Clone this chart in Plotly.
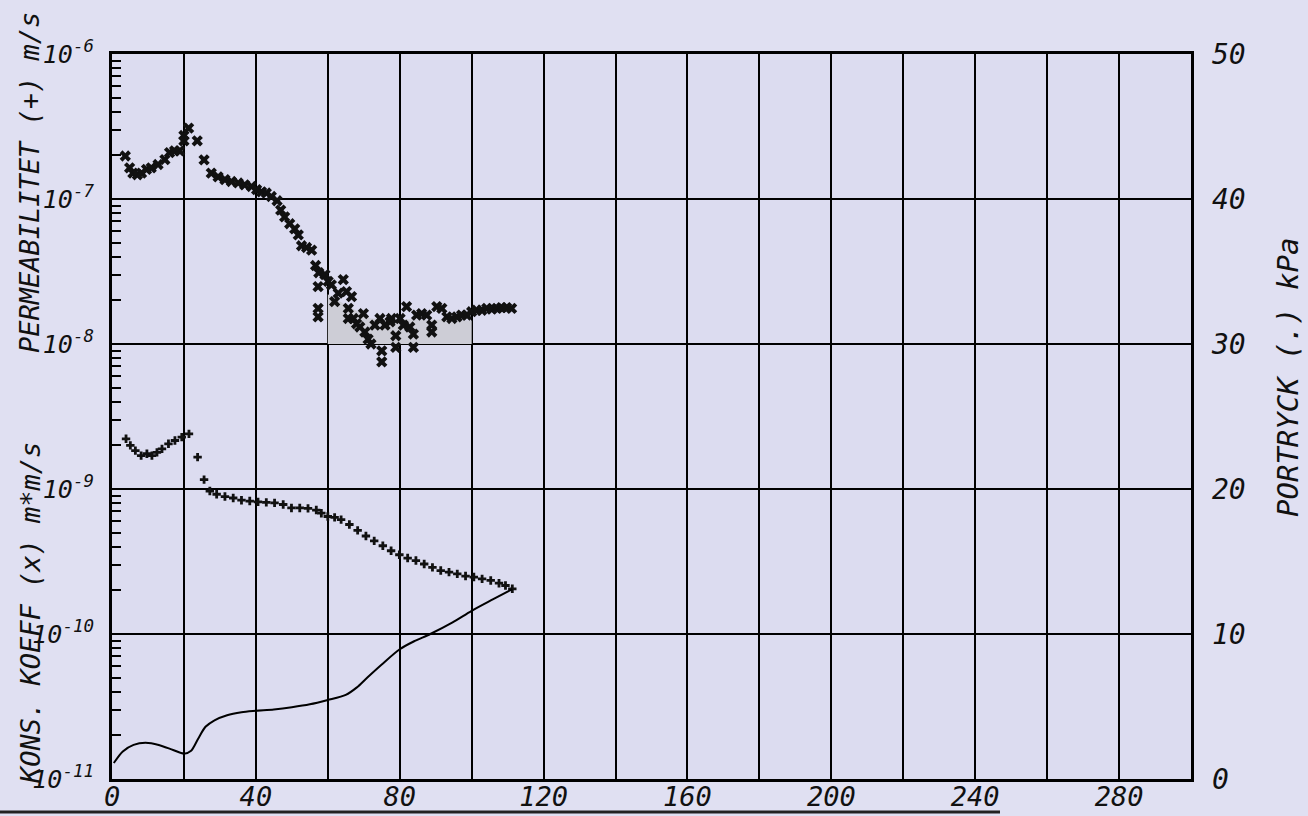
import plotly.graph_objects as go

# ---------------- data ----------------
perm_x = [3.7, 4.9, 5.8, 7.05, 8.2, 9.6, 10.9, 12.8, 14.7, 16.0, 17.4, 18.8, 20.0, 20.0, 21.3,
          23.7, 25.6, 27.6, 29.5, 31.4, 33.2, 35.1, 36.9, 38.8, 40.2, 41.6, 42.9, 44.3, 45.9,
          46.9, 48.0, 49.4, 50.8, 51.8, 52.7, 54.1, 55.5, 56.6, 57.5, 57.3, 57.3, 57.3, 59.2,
          60.1, 61.0, 61.9, 62.9, 64.3, 65.2, 66.6, 65.7, 65.7, 67.1, 68.0, 68.9, 69.9, 70.3,
          71.2, 72.0, 73.1, 74.5, 75.0, 75.0, 75.9, 77.3, 77.7, 78.9, 78.9, 80.1, 81.0, 81.9,
          82.8, 83.8, 83.8, 84.7, 86.1, 87.5, 88.9, 88.9, 90.3, 91.7, 93.1, 94.5, 95.9, 97.2,
          98.6, 100.0, 101.4, 102.8, 104.2, 105.6, 107.0, 108.3, 109.7, 111.1]
perm_v = [1.98e-7, 1.64e-7, 1.51e-7, 1.47e-7, 1.51e-7, 1.60e-7, 1.64e-7, 1.73e-7, 1.87e-7,
          2.09e-7, 2.15e-7, 2.15e-7, 2.74e-7, 2.52e-7, 3.08e-7, 2.52e-7, 1.86e-7, 1.51e-7,
          1.42e-7, 1.36e-7, 1.32e-7, 1.29e-7, 1.25e-7, 1.22e-7, 1.16e-7, 1.12e-7, 1.10e-7,
          1.04e-7, 9.73e-8, 8.38e-8, 7.52e-8, 6.75e-8, 6.22e-8, 5.65e-8, 4.76e-8, 4.63e-8,
          4.44e-8, 3.48e-8, 3.10e-8, 2.49e-8, 1.76e-8, 1.54e-8, 3.01e-8, 2.70e-8, 2.56e-8,
          1.96e-8, 2.24e-8, 2.78e-8, 2.30e-8, 2.12e-8, 1.76e-8, 1.50e-8, 1.50e-8, 1.38e-8,
          1.31e-8, 1.62e-8, 1.21e-8, 1.08e-8, 1.00e-8, 1.35e-8, 1.50e-8, 8.97e-9, 7.52e-9,
          1.35e-8, 1.42e-8, 1.50e-8, 1.14e-8, 9.48e-9, 1.50e-8, 1.35e-8, 1.81e-8, 1.31e-8,
          1.17e-8, 9.48e-9, 1.58e-8, 1.62e-8, 1.58e-8, 1.35e-8, 1.21e-8, 1.81e-8, 1.76e-8,
          1.54e-8, 1.50e-8, 1.54e-8, 1.58e-8, 1.58e-8, 1.67e-8, 1.71e-8, 1.71e-8, 1.76e-8,
          1.74e-8, 1.76e-8, 1.78e-8, 1.78e-8, 1.76e-8]

kons_x = [3.9, 5.1, 6.5, 8.1, 9.7, 11.1, 12.5, 13.9, 15.7, 17.5, 19.4, 21.4, 23.8, 25.6, 27.2,
          29.1, 31.4, 33.7, 36.0, 38.3, 40.6, 42.9, 45.2, 47.6, 49.9, 52.2, 54.5, 56.8, 58.2,
          60.0, 61.9, 63.7, 66.0, 68.3, 70.6, 72.9, 75.3, 77.6, 79.9, 82.2, 84.5, 86.8, 89.1,
          91.4, 93.7, 96.0, 98.3, 100.6, 102.9, 105.3, 107.6, 109.4, 111.3]
kons_v = [2.22e-9, 2.00e-9, 1.84e-9, 1.70e-9, 1.75e-9, 1.70e-9, 1.79e-9, 1.89e-9, 2.05e-9,
          2.16e-9, 2.28e-9, 2.40e-9, 1.66e-9, 1.16e-9, 9.68e-10, 9.20e-10, 8.87e-10, 8.67e-10,
          8.37e-10, 8.26e-10, 8.15e-10, 8.09e-10, 8.02e-10, 7.82e-10, 7.40e-10, 7.40e-10,
          7.35e-10, 7.16e-10, 6.81e-10, 6.46e-10, 6.37e-10, 6.15e-10, 5.69e-10, 5.18e-10,
          4.74e-10, 4.39e-10, 4.06e-10, 3.75e-10, 3.52e-10, 3.34e-10, 3.21e-10, 3.04e-10,
          2.88e-10, 2.74e-10, 2.67e-10, 2.60e-10, 2.51e-10, 2.47e-10, 2.40e-10, 2.34e-10,
          2.24e-10, 2.16e-10, 2.05e-10]

pres_x = [0.5, 3, 6, 9.3, 13, 17, 20, 22, 24, 26, 28.5, 32, 36, 40, 45, 50, 55, 60, 65, 68,
          71, 75, 80, 84, 88.5, 94.7, 100, 106, 111.3]
pres_kpa = [1.1, 1.9, 2.35, 2.5, 2.35, 2.0, 1.75, 1.95, 2.8, 3.6, 4.05, 4.4, 4.6, 4.7, 4.8,
            4.95, 5.15, 5.45, 5.8, 6.3, 7.0, 7.9, 8.95, 9.5, 10.0, 10.8, 11.6, 12.4, 13.1]

# light grey patch visible under the permeability points
shade_x = [60, 60, 66, 72, 100, 100]
shade_v = [1.0e-8, 2.2e-8, 1.8e-8, 1.5e-8, 1.45e-8, 1.0e-8]

x_tick_vals = [0, 40, 80, 120, 160, 200, 240, 280]
x_tick_text = ["0", "40", "80", "120", "160", "200", "240", "280"]
left_exponents = [-11, -10, -9, -8, -7, -6]
right_tick_vals = [0, 10, 20, 30, 40, 50]

# ---------------- figure ----------------
FONT = "DejaVu Sans Mono"
PAPER = "#e0e0f2"
W, H = 1308, 816
ML, MR, MT, MB = 112, 117, 54, 37
PW = W - ML - MR
PH = H - MT - MB

left_tick_vals = [10.0 ** e for e in left_exponents]
left_tick_text = ["10<sup>%d</sup>" % e for e in left_exponents]
minor_vals = [k * 10.0 ** e for e in left_exponents[:-1] for k in range(2, 10)]

fig = go.Figure()
fig.add_trace(go.Scatter(x=shade_x, y=shade_v, mode="lines", fill="toself",
                         fillcolor="#cdcdd6", line=dict(width=0), hoverinfo="skip"))
fig.add_trace(go.Scatter(x=pres_x, y=pres_kpa, yaxis="y2", mode="lines",
                         line=dict(color="black", width=2, shape="spline", smoothing=0.8)))
fig.add_trace(go.Scatter(x=perm_x, y=perm_v, mode="markers",
                         marker=dict(symbol="x", size=10, color="#111111", line=dict(width=0))))
fig.add_trace(go.Scatter(x=kons_x, y=kons_v, mode="markers",
                         marker=dict(symbol="cross", size=7, color="#111111", line=dict(width=0))))

tick_font = dict(family=FONT, size=28, color="#111111", style="italic")

fig.update_layout(
    width=W, height=H,
    margin=dict(l=ML, r=MR, t=MT, b=MB, autoexpand=False),
    paper_bgcolor=PAPER,
    plot_bgcolor="#dcdcf0",
    showlegend=False,
    xaxis=dict(
        range=[0, 300], tickmode="array", tickvals=x_tick_vals, ticktext=x_tick_text,
        showgrid=True, gridcolor="black", gridwidth=2,
        minor=dict(tick0=0, dtick=20, showgrid=True, gridcolor="black", gridwidth=2),
        showline=True, linecolor="black", linewidth=3, mirror=True,
        ticks="", zeroline=False, ticklabelstandoff=-8,
        tickfont=dict(family=FONT, size=27, color="#111111", style="italic"),
    ),
    yaxis=dict(
        type="log", range=[-11, -6], tickmode="array",
        tickvals=left_tick_vals, ticktext=left_tick_text,
        showgrid=True, gridcolor="black", gridwidth=2,
        minor=dict(tickmode="array", tickvals=minor_vals, ticks="inside", ticklen=9,
                   tickwidth=2, tickcolor="black", showgrid=False),
        showline=True, linecolor="black", linewidth=3, mirror=True,
        ticks="", zeroline=False, ticklabelstandoff=10,
        tickfont=dict(family=FONT, size=25, color="#111111", style="italic"),
    ),
    yaxis2=dict(
        overlaying="y", side="right", range=[0, 50], tickmode="array",
        tickvals=right_tick_vals, showgrid=False, zeroline=False, showline=False,
        ticks="", ticklabelstandoff=20, tickfont=tick_font,
    ),
)

title_font = dict(family=FONT, size=27, color="#111111", style="italic")
def px_x(px):
    return (px - ML) / PW
def px_y(py):
    return 1 - (py - MT) / PH

fig.add_annotation(text="PERMEABILITET (+) m/s", xref="paper", yref="paper",
                   x=px_x(30), y=px_y(183), textangle=-90, showarrow=False,
                   xanchor="center", yanchor="middle", font=title_font)
fig.add_annotation(text="KONS. KOEFF (x) m*m/s", xref="paper", yref="paper",
                   x=px_x(30), y=px_y(613), textangle=-90, showarrow=False,
                   xanchor="center", yanchor="middle", font=title_font)
fig.add_annotation(text="PORTRYCK (.) kPa", xref="paper", yref="paper",
                   x=px_x(1288), y=px_y(378), textangle=-90, showarrow=False,
                   xanchor="center", yanchor="middle",
                   font=dict(family=FONT, size=29, color="#111111", style="italic"))

# dark page edge at the bottom of the scan
fig.add_shape(type="line", xref="paper", yref="paper",
              x0=px_x(0), x1=px_x(1000), y0=px_y(812), y1=px_y(812),
              line=dict(color="#222222", width=3))

fig.write_html(
    "out.html",
    config={"displayModeBar": False},
    post_script="document.body.style.margin='0';document.body.style.overflow='hidden';"
                "document.body.style.background='" + PAPER + "';",
)
